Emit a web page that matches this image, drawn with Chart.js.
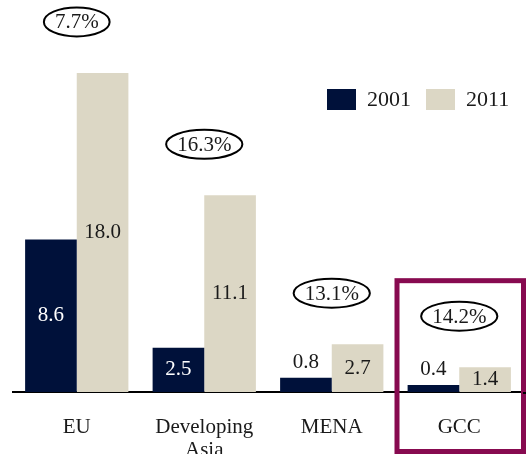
<!DOCTYPE html>
<html>
<head>
<meta charset="utf-8">
<script src="https://cdn.jsdelivr.net/npm/chart.js@4.4.1/dist/chart.umd.min.js"></script>
<style>
  html, body { margin: 0; padding: 0; background: #fff; }
  #wrap { width: 526px; height: 454px; overflow: hidden; position: relative; }
</style>
</head>
<body>
<div id="wrap"><canvas id="chart" width="526" height="461"></canvas></div>
<script>
// data
const categories = ['EU', 'Developing Asia', 'MENA', 'GCC'];
const series2001 = [8.6, 2.5, 0.8, 0.4];
const series2011 = [18.0, 11.1, 2.7, 1.4];
const growthLabels = ['7.7%', '16.3%', '13.1%', '14.2%'];
const highlightCategory = 'GCC';

const NAVY = '#00113a';
const BEIGE = '#dcd7c5';
const TEXT = '#1a1a1a';
const FAMILY = '"Liberation Serif", "Times New Roman", serif';
const FONT = '21px ' + FAMILY;

// value labels on the bars: centred, or above the bar when it is too short
const valueLabels = {
  id: 'valueLabels',
  afterDatasetsDraw(chart) {
    const ctx = chart.ctx;
    ctx.save();
    ctx.font = FONT;
    ctx.textAlign = 'center';
    ctx.textBaseline = 'middle';
    chart.data.datasets.forEach((ds, di) => {
      chart.getDatasetMeta(di).data.forEach((bar, i) => {
        const h = bar.base - bar.y;
        const txt = ds.data[i].toFixed(1);
        if (h < 20) {
          ctx.fillStyle = TEXT;
          ctx.fillText(txt, bar.x, bar.y - 15);
        } else {
          ctx.fillStyle = di === 0 ? '#ffffff' : TEXT;
          ctx.fillText(txt, bar.x, (bar.y + bar.base) / 2);
        }
      });
    });
    ctx.restore();
  }
};

// growth rate in an ellipse above each group + box round the highlighted one
const growthBubbles = {
  id: 'growthBubbles',
  afterDraw(chart) {
    const ctx = chart.ctx;
    const xs = chart.scales.x;
    const ys = chart.scales.y;
    const catW = xs.width / categories.length;
    ctx.save();
    ctx.font = FONT;
    ctx.textAlign = 'center';
    ctx.textBaseline = 'middle';
    categories.forEach((c, i) => {
      const cx = xs.getPixelForValue(i);
      const top = Math.max(series2001[i], series2011[i]);
      const cy = ys.getPixelForValue(top) - 51;
      const rx = ctx.measureText(growthLabels[i]).width / 2 + 11;
      ctx.beginPath();
      ctx.ellipse(cx, cy, rx, 14.5, 0, 0, Math.PI * 2);
      ctx.lineWidth = 2;
      ctx.strokeStyle = '#000';
      ctx.stroke();
      ctx.fillStyle = TEXT;
      ctx.fillText(growthLabels[i], cx, cy + 1);

      if (c === highlightCategory) {
        ctx.lineWidth = 5;
        ctx.strokeStyle = '#870a50';
        const left = cx - catW / 2 + 1.5;
        const right = Math.min(cx + catW / 2 + 0.5, chart.width - 2.5);
        ctx.strokeRect(left, cy - 35.5, right - left, chart.chartArea.bottom + 59.5 - (cy - 35.5));
      }
    });

    // baseline runs on to the right edge
    ctx.fillStyle = '#000';
    ctx.fillRect(chart.chartArea.right, chart.chartArea.bottom, chart.width - chart.chartArea.right, 2);

    // legend
    let x = 327;
    const y = 89;
    ctx.font = '22px ' + FAMILY;
    chart.data.datasets.forEach(ds => {
      ctx.fillStyle = ds.backgroundColor;
      ctx.fillRect(x, y, 29, 21);
      ctx.fillStyle = TEXT;
      ctx.textAlign = 'left';
      ctx.fillText(ds.label, x + 40, y + 11);
      x += 40 + ctx.measureText(ds.label).width + 15;
    });
    ctx.restore();
  }
};

new Chart(document.getElementById('chart'), {
  type: 'bar',
  data: {
    labels: categories.map(c => c.split(' ')),
    datasets: [
      { label: '2001', data: series2001, backgroundColor: NAVY },
      { label: '2011', data: series2011, backgroundColor: BEIGE }
    ]
  },
  options: {
    responsive: false,
    animation: false,
    layout: { padding: { left: 13, right: 3, top: 2, bottom: 0 } },
    datasets: { bar: { barPercentage: 1, categoryPercentage: 0.81 } },
    plugins: { legend: { display: false }, tooltip: { enabled: false } },
    scales: {
      x: {
        afterFit(scale) { scale.height = 69; },
        grid: { display: false, drawTicks: false },
        border: { display: true, color: '#000', width: 2 },
        ticks: {
          color: TEXT,
          padding: 24,
          font: { family: FAMILY, size: 21, lineHeight: 1.1 }
        }
      },
      y: { display: false, min: 0, max: 22 }
    }
  },
  plugins: [valueLabels, growthBubbles]
});
</script>
</body>
</html>
